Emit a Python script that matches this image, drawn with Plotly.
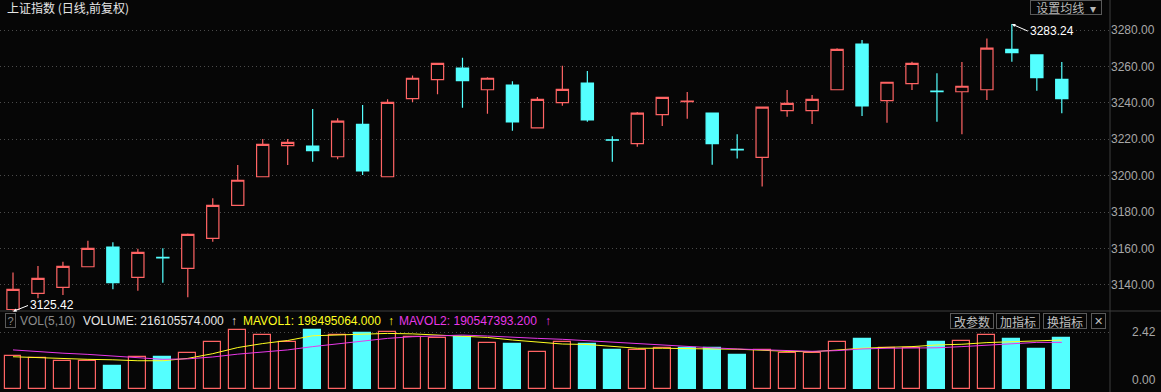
import plotly.graph_objects as go

W, H = 1161, 392
BG = "#060606"
RED = "#ff6464"
CYAN = "#54ffff"
YEL = "#ffff20"
MAG = "#e838e8"
GRID = "#4a4a4a"
LBL = "#a8a8a8"
NUMFONT = "Liberation Sans, Arial, sans-serif"
CJKFONT = "Noto Sans CJK SC, sans-serif"

# ---- data ----
idx = list(range(43))
opens = [3126.5, 3135.4, 3138.7, 3150.0, 3160.8, 3144.2, 3155.1, 3149.1, 3165.6, 3183.7,
         3199.4, 3216.5, 3216.3, 3210.4, 3228.2, 3199.4, 3242.3, 3252.7, 3259.1, 3247.2,
         3249.8, 3226.3, 3240.1, 3250.9, 3219.7, 3217.6, 3233.5, 3240.7, 3234.4, 3214.4,
         3210.1, 3235.7, 3235.7, 3247.2, 3272.3, 3241.2, 3250.5, 3246.4, 3246.1, 3247.2,
         3269.4, 3266.3, 3252.9]
highs = [3146.9, 3150.4, 3152.8, 3164.3, 3163.4, 3159.9, 3160.1, 3168.3, 3187.6, 3205.9,
         3220.1, 3220.1, 3236.6, 3231.5, 3238.8, 3242.0, 3255.0, 3261.7, 3264.8, 3254.0,
         3251.8, 3243.2, 3260.4, 3257.5, 3221.6, 3235.0, 3243.0, 3246.0, 3234.4, 3222.7,
         3237.6, 3247.0, 3244.3, 3270.0, 3274.5, 3251.3, 3262.6, 3256.2, 3262.4, 3275.4,
         3283.24, 3266.3, 3262.4]
lows = [3125.42, 3132.7, 3134.5, 3150.0, 3137.6, 3136.8, 3141.2, 3133.2, 3163.7, 3183.7,
        3199.4, 3205.9, 3207.7, 3209.0, 3200.4, 3199.4, 3240.5, 3244.7, 3237.3, 3234.0,
        3224.7, 3226.3, 3238.4, 3229.6, 3207.7, 3215.9, 3227.3, 3231.3, 3206.0, 3209.5,
        3194.0, 3232.4, 3228.4, 3247.2, 3232.8, 3229.1, 3247.0, 3229.6, 3222.7, 3241.6,
        3262.6, 3246.7, 3234.3]
closes = [3137.6, 3143.6, 3150.2, 3160.1, 3141.2, 3157.9, 3154.9, 3167.8, 3183.7, 3197.5,
          3217.2, 3218.3, 3213.7, 3230.0, 3202.6, 3240.3, 3253.5, 3261.7, 3252.2, 3253.5,
          3229.6, 3241.9, 3247.4, 3230.6, 3219.5, 3234.3, 3243.0, 3240.9, 3217.6, 3214.2,
          3237.6, 3239.7, 3241.9, 3269.4, 3238.3, 3251.3, 3261.7, 3246.2, 3249.1, 3270.0,
          3267.5, 3253.8, 3242.3]

# volume in units of 1e8
volume = [1.40, 1.30, 1.19, 1.19, 0.99, 1.35, 1.35, 1.52, 1.98, 2.51,
          2.29, 1.98, 2.51, 2.29, 2.37, 2.41, 2.22, 2.15, 2.22, 1.94,
          1.91, 1.56, 1.98, 1.89, 1.66, 1.66, 1.75, 1.73, 1.73, 1.44,
          1.66, 1.54, 1.54, 1.98, 2.12, 1.73, 1.73, 2.01, 2.04, 2.29,
          2.12, 1.70, 2.16]
vol_up = [1, 1, 1, 1, 0, 1, 0, 1, 1, 1,
          1, 1, 0, 1, 0, 1, 1, 1, 0, 1,
          0, 1, 1, 0, 0, 1, 1, 0, 0, 0,
          1, 1, 1, 1, 0, 1, 1, 0, 1, 1,
          0, 0, 0]
mavol1 = [1.37, 1.33, 1.27, 1.26, 1.24, 1.20, 1.20, 1.30, 1.50, 1.76,
          1.93, 2.06, 2.26, 2.29, 2.34, 2.36, 2.34, 2.29, 2.26, 2.19,
          2.08, 1.98, 1.91, 1.89, 1.80, 1.73, 1.73, 1.73, 1.70, 1.69,
          1.63, 1.60, 1.58, 1.66, 1.73, 1.77, 1.80, 1.87, 1.90, 1.97,
          2.01, 2.04, 2.08]
mavol2 = [1.66, 1.58, 1.52, 1.47, 1.40, 1.30, 1.26, 1.28, 1.36, 1.48,
          1.56, 1.66, 1.80, 1.91, 2.05, 2.15, 2.22, 2.26, 2.29, 2.25,
          2.19, 2.15, 2.11, 2.05, 1.97, 1.90, 1.84, 1.80, 1.75, 1.70,
          1.66, 1.63, 1.60, 1.63, 1.70, 1.73, 1.73, 1.75, 1.80, 1.87,
          1.94, 1.98, 1.98]

price_ticks = [3140, 3160, 3180, 3200, 3220, 3240, 3260, 3280]
price_ticktext = ["%.2f" % t for t in price_ticks]
vol_ticks = [2.42, 0.00]
vol_ticktext = ["2.42", "0.00"]

title_text = "上证指数 (日线,前复权)"
vol_name = "VOL(5,10)"
vol_text = "VOLUME: 216105574.000"
mavol1_text = "MAVOL1: 198495064.000"
mavol2_text = "MAVOL2: 190547393.200"
buttons = ["改参数", "加指标", "换指标"]

# ---- figure ----
fig = go.Figure()
fig.add_trace(go.Candlestick(
    x=idx, open=opens, high=highs, low=lows, close=closes,
    increasing=dict(line=dict(color=RED, width=1.2), fillcolor=BG),
    decreasing=dict(line=dict(color=CYAN, width=1.2), fillcolor=CYAN),
    whiskerwidth=0, hoverinfo="skip", xaxis="x", yaxis="y"))

fig.add_trace(go.Bar(
    x=idx, y=volume, width=0.68,
    marker=dict(color=[BG if u else CYAN for u in vol_up],
                line=dict(color=[RED if u else CYAN for u in vol_up], width=1.2)),
    hoverinfo="skip", xaxis="x", yaxis="y2"))
fig.add_trace(go.Scatter(x=idx, y=mavol1, mode="lines", line=dict(color=YEL, width=1),
                         hoverinfo="skip", xaxis="x", yaxis="y2"))
fig.add_trace(go.Scatter(x=idx, y=mavol2, mode="lines", line=dict(color=MAG, width=1),
                         hoverinfo="skip", xaxis="x", yaxis="y2"))

XR = 1110
xd = XR / W

def px(x):
    return x / W

def py(y):
    return 1 - y / H

ann = []
ann.append(dict(x=px(5), y=py(7), xref="paper", yref="paper", text=title_text,
                showarrow=False, xanchor="left", yanchor="middle",
                font=dict(family=CJKFONT, size=12, color="#e6e6e6")))
# 设置均线 button
ann.append(dict(x=px(1065.5), y=py(7), xref="paper", yref="paper", text="设置均线  ▾",
                showarrow=False, xanchor="center", yanchor="middle",
                width=70, height=13, bordercolor="#5a5a5a", borderwidth=1, borderpad=0,
                font=dict(family=CJKFONT, size=12, color="#b8b8b8")))
# high / low markers
ann.append(dict(x=40, y=highs[40], xref="x", yref="y", text="3283.24", showarrow=True,
                ax=16, ay=7, xanchor="left", yanchor="middle", arrowhead=2, arrowsize=0.7,
                arrowwidth=1, arrowcolor="#ffffff",
                font=dict(family=NUMFONT, size=12, color="#ffffff")))
ann.append(dict(x=0, y=lows[0], xref="x", yref="y", text="3125.42", showarrow=True,
                ax=15, ay=-6, xanchor="left", yanchor="middle", arrowhead=2, arrowsize=0.7,
                arrowwidth=1, arrowcolor="#ffffff",
                font=dict(family=NUMFONT, size=12, color="#ffffff")))
# volume header
hy = py(320.5)
ann.append(dict(x=px(10), y=hy, xref="paper", yref="paper", text="?", showarrow=False,
                xanchor="center", yanchor="middle", width=9, height=13,
                bordercolor="#5a5a5a", borderwidth=1, borderpad=0,
                font=dict(family=NUMFONT, size=11, color="#8a8a8a")))
for xx, txt, col in [(18, vol_name, "#8c8c8c"), (81, vol_text, "#e6e6e6"),
                     (229, "↑", "#e6e6e6"), (241, mavol1_text, YEL),
                     (386, "↑", YEL), (397, mavol2_text, MAG), (543, "↑", MAG)]:
    ann.append(dict(x=px(xx), y=hy, xref="paper", yref="paper", text=txt, showarrow=False,
                    xanchor="left", yanchor="middle",
                    font=dict(family=NUMFONT, size=12, color=col)))
for cx, txt in zip([972, 1018, 1065], buttons):
    ann.append(dict(x=px(cx), y=hy, xref="paper", yref="paper", text=txt, showarrow=False,
                    xanchor="center", yanchor="middle", width=42, height=14,
                    bordercolor="#5a5a5a", borderwidth=1, borderpad=0,
                    font=dict(family=CJKFONT, size=12, color="#c0c0c0")))
ann.append(dict(x=px(1098), y=hy, xref="paper", yref="paper", text="✕", showarrow=False,
                xanchor="center", yanchor="middle", width=13, height=14,
                bordercolor="#5a5a5a", borderwidth=1, borderpad=0,
                font=dict(family="DejaVu Sans", size=11, color="#c0c0c0")))
# volume axis labels
ann.append(dict(x=px(1158), y=vol_ticks[0], xref="paper", yref="y2", text=vol_ticktext[0],
                showarrow=False, xanchor="right", yanchor="middle",
                font=dict(family=NUMFONT, size=12, color=LBL)))
ann.append(dict(x=px(1158), y=vol_ticks[1], xref="paper", yref="y2", text=vol_ticktext[1],
                showarrow=False, xanchor="right", yanchor="bottom",
                font=dict(family=NUMFONT, size=12, color=LBL)))

shapes = [
    dict(type="line", xref="paper", yref="paper", x0=xd, x1=xd, y0=0, y1=1,
         line=dict(color="#3c3c3c", width=1)),
    dict(type="line", xref="paper", yref="paper", x0=0, x1=1, y0=py(311), y1=py(311),
         line=dict(color="#3c3c3c", width=1)),
]

fig.update_layout(
    width=W, height=H, margin=dict(l=0, r=0, t=0, b=0),
    paper_bgcolor=BG, plot_bgcolor=BG, showlegend=False, bargap=0,
    xaxis=dict(domain=[0, xd], range=[-0.5206, 43.93], visible=False,
               rangeslider=dict(visible=False), anchor="y2", fixedrange=True),
    yaxis=dict(domain=[80 / H, 374 / H], range=[3125.14, 3286.59], side="right",
               anchor="x", tickvals=price_ticks, ticktext=price_ticktext, ticks="",
               showgrid=True, gridcolor=GRID, gridwidth=1, griddash="1px,3px",
               zeroline=False, showline=False,
               tickfont=dict(family=NUMFONT, size=12, color=LBL)),
    yaxis2=dict(domain=[0, 67 / H], range=[-0.1274, 2.7176], side="right", anchor="x",
                tickvals=[vol_ticks[0]], showticklabels=False, ticks="",
                showgrid=True, gridcolor=GRID, gridwidth=1, griddash="1px,3px",
                zeroline=False, showline=False),
    annotations=ann, shapes=shapes,
)

fig.write_html("out.html")
